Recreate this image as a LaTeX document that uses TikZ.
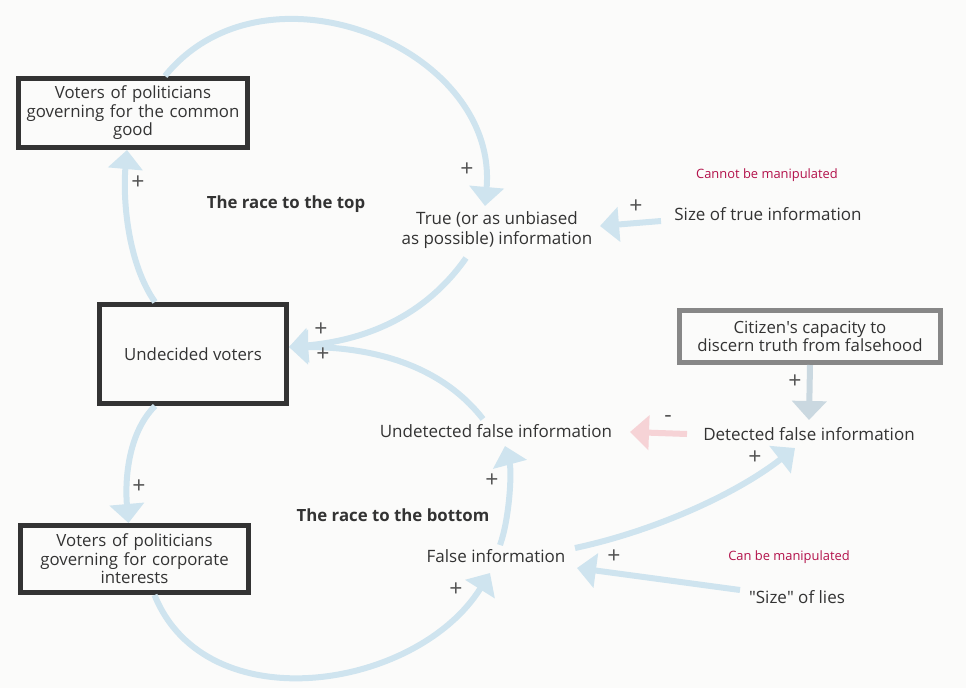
\documentclass[tikz,border=0pt]{standalone}
\usepackage{fontspec}
\setmainfont{Open Sans}
\usepackage{xcolor}
\usetikzlibrary{arrows.meta}

\definecolor{ink}{HTML}{333333}
\definecolor{signc}{HTML}{555555}
\definecolor{boxgray}{HTML}{878787}
\definecolor{flowblue}{HTML}{CFE4EF}
\definecolor{flowpink}{HTML}{F6D3D6}
\definecolor{flowgray}{HTML}{CAD8E0}
\definecolor{notered}{HTML}{B3124B}
\definecolor{paper}{HTML}{FBFBFA}

\tikzset{
	box/.style={draw=ink, line width=5pt, align=center, text=ink, font=\fontsize{16.8}{18.5}\selectfont},
	graybox/.style={box, draw=boxgray},
	lbl/.style={align=center, text=ink, inner sep=2pt, font=\fontsize{17}{20}\selectfont},
	title/.style={text=ink, font=\fontsize{16.8}{19}\selectfont\bfseries},
	note/.style={text=notered, font=\fontsize{12.9}{15}\selectfont},
	sign/.style={text=signc, font=\fontsize{23}{23}\selectfont},
	flow/.style={draw=flowblue, line width=6pt, -{Triangle[length=19pt,width=34pt]}},
}

\begin{document}
\begin{tikzpicture}[x=1pt,y=-1pt]
		\fill[paper] (0,0) rectangle (966,688);
		\useasboundingbox (0,0) rectangle (966,688);

		% stocks
		\node[box, minimum width=225pt, minimum height=69pt, text width=222pt] (G) at (133,113) {Voters of politicians\\governing for the common\\good};
		\node[box, minimum width=187pt, minimum height=99pt] (U) at (193,354) {Undecided voters};
		\node[box, minimum width=226pt, minimum height=67pt, text width=222pt] (C) at (134.5,559) {Voters of politicians\\governing for corporate\\interests};
		\node[graybox, minimum width=261pt, minimum height=52pt] (K) at (810,336.5) {Citizen\textquotesingle s capacity to\\discern truth from falsehood};

		% variables
		\node[lbl] (T) at (497,230) {True (or as unbiased\\as possible) information};
		\node[lbl] (S) at (768,214) {Size of true information};
		\node[lbl] (N) at (496,431) {Undetected false information};
		\node[lbl] (D) at (809,434) {Detected false information};
		\node[lbl] (F) at (496,556) {False information};
		\node[lbl] (L) at (797,597) {\textquotedbl Size\textquotedbl{} of lies};

		\node[note] (Tn) at (767,175) {Cannot be manipulated};
		\node[note] (Ln) at (789,557) {Can be manipulated};
		\node[title] (Rt) at (286,204) {The race to the top};
		\node[title] (Rb) at (393,515) {The race to the bottom};

		% links
		\draw[flow] ([shift={(32,0)}]G.north) to[out=51, in=85, looseness=1.18] ([shift={(-12,-24)}]T.center);
		\draw[flow] ([shift={(-38,0)}]U.north) to[out=125, in=-95, looseness=0.8] ([shift={(-6,0)}]G.south);
		\draw[flow] ([shift={(-31,28)}]T.center) to[out=235, in=5, looseness=0.95] ([shift={(0,-7)}]U.east);
		\draw[flow] ([shift={(-13,-12)}]N.center) to[out=128, in=0, looseness=0.92] ([shift={(0,-7)}]U.east);
		\draw[flow] ([shift={(-38,0)}]U.south) to[out=225, in=95, looseness=0.85] ([shift={(-6,0)}]C.north);
		\draw[flow] ([shift={(20,0)}]C.south) to[out=-68, in=-122, looseness=1.05] ([shift={(-6,17)}]F.center);
		\draw[flow] ([shift={(4,-11)}]F.center) to[out=70, in=-75, looseness=0.7] ([shift={(9,15)}]N.center);
		\draw[flow] ([shift={(79,-8)}]F.center) to[out=12, in=218, looseness=0.82] ([shift={(-14,14)}]D.center);
		\draw[flow] ([shift={(-57,-7)}]L.center) -- ([shift={(81,12)}]F.center);
		\draw[flow] ([shift={(-107,7)}]S.center) -- ([shift={(103,-4)}]T.center);
		\draw[flow, draw=flowgray] (K.south) -- ([shift={(0,-14)}]D.center);
		\draw[flow, draw=flowpink] ([shift={(-122,0)}]D.center) -- ([shift={(134,1)}]N.center);

		% polarities
		\node[sign] (s1) at (467,170) {+};
		\node[sign] (s2) at (138,183) {+};
		\node[sign] (s3) at (321,330) {+};
		\node[sign] (s4) at (323,355) {+};
		\node[sign] (s5) at (139,487) {+};
		\node[sign] (s6) at (456,590) {+};
		\node[sign] (s7) at (492,481) {+};
		\node[sign] (s8) at (755,458) {+};
		\node[sign] (s9) at (614,557) {+};
		\node[sign] (s10) at (636,207) {+};
		\node[sign] (s11) at (795,382) {+};
		\node[sign] (s12) at (668,419) {-};
\end{tikzpicture}
\end{document}
